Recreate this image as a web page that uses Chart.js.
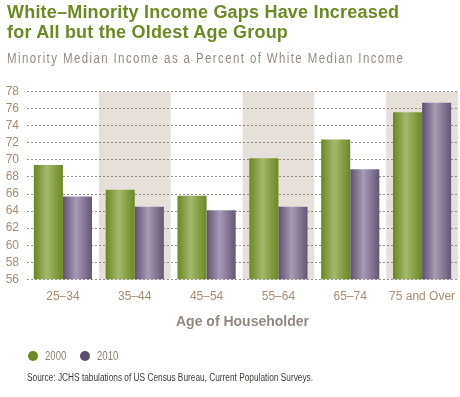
<!DOCTYPE html>
<html>
<head>
<meta charset="utf-8">
<script src="https://cdn.jsdelivr.net/npm/chart.js@4"></script>
<style>
  body { margin: 0; background: #fff; width: 460px; height: 397px; position: relative; overflow: hidden; }
  #chart { position: absolute; left: 0; top: 0; }
  .title { position: absolute; left: 7px; top: 2px; font: bold 18px "Liberation Sans", Arial, sans-serif; line-height: 20px; letter-spacing: 0.2px; color: #6b8a22; white-space: nowrap; }
  .narrow { display: inline-block; transform-origin: 0 50%; white-space: nowrap; }
  .subtitle { position: absolute; left: 7px; top: 50px; font: 14px "Liberation Sans", Arial, sans-serif; line-height: 16px; letter-spacing: 1.7px; color: #958b82; transform: scaleX(0.82); }
  .legend { position: absolute; left: 28px; top: 349px; font: 12px "Liberation Sans", Arial, sans-serif; color: #8d7f72; line-height: 12px; }
  .legend span { display: inline-block; vertical-align: middle; }
  .legend i { display: inline-block; width: 10px; height: 10px; border-radius: 50%; margin-right: 7px; vertical-align: middle; }
  .legend b { font-weight: normal; display: inline-block; width: 21px; margin-right: 14px; vertical-align: middle; }
  .legend b em { font-style: normal; transform: scaleX(0.8); }
  .source { position: absolute; left: 27px; top: 372px; font: 10px "Liberation Sans", Arial, sans-serif; color: #3f3a36; transform: scaleX(0.83); }
</style>
</head>
<body>
<canvas id="chart" width="460" height="397"></canvas>
<div class="title">White–Minority Income Gaps Have Increased<br>for All but the Oldest Age Group</div>
<div class="subtitle narrow">Minority Median Income as a Percent of White Median Income</div>
<div class="legend" id="legend"></div>
<div class="source narrow">Source: JCHS tabulations of US Census Bureau, Current Population Surveys.</div>
<script>
// data
const ageGroups = ["25–34", "35–44", "45–54", "55–64", "65–74", "75 and Over"];
const income2000 = [69.4, 66.5, 65.8, 70.2, 72.4, 75.6];
const income2010 = [65.7, 64.5, 64.1, 64.5, 68.9, 76.7];
const yTicks = [56, 58, 60, 62, 64, 66, 68, 70, 72, 74, 76, 78];
const shadedGroups = [1, 3, 5];

const CAT_PCT = 0.81;
const greenStops = ["#6a8722", "#a4b86c", "#6b8823"];
const purpleStops = ["#5f5074", "#a69cb4", "#645677"];

function barGradient(c, stops) {
  const chart = c.chart, area = chart.chartArea;
  if (!area || c.dataIndex === undefined) return stops[0];
  const cw = (area.right - area.left) / ageGroups.length * CAT_PCT;
  const bw = cw / 2;
  const mid = chart.scales.x.getPixelForValue(c.dataIndex) - cw / 2 + bw * (c.datasetIndex + 0.5);
  const g = chart.ctx.createLinearGradient(mid - bw / 2, 0, mid + bw / 2, 0);
  g.addColorStop(0, stops[0]);
  g.addColorStop(0.45, stops[1]);
  g.addColorStop(1, stops[2]);
  return g;
}

// background bands behind every other age group
const bands = {
  id: "bands",
  beforeDraw(chart) {
    const { ctx, chartArea: a, scales: { x, y } } = chart;
    const w = (a.right - a.left) / ageGroups.length;
    const top = y.getPixelForValue(yTicks[yTicks.length - 1]);
    ctx.save();
    ctx.fillStyle = "#e6e0db";
    shadedGroups.forEach(i => {
      const cx = x.getPixelForValue(i);
      ctx.fillRect(cx - w / 2, top, w, a.bottom - top);
    });
    ctx.restore();
  }
};

const tickFont = { family: "'Liberation Sans', Arial, sans-serif", size: 12 };

const chart = new Chart(document.getElementById("chart"), {
  type: "bar",
  data: {
    labels: ageGroups,
    datasets: [
      { label: "2000", data: income2000, backgroundColor: c => barGradient(c, greenStops), legendColor: "#6b8a22" },
      { label: "2010", data: income2010, backgroundColor: c => barGradient(c, purpleStops), legendColor: "#5a4d70" }
    ]
  },
  options: {
    responsive: false,
    animation: false,
    datasets: { bar: { categoryPercentage: CAT_PCT, barPercentage: 1 } },
    layout: { padding: { top: 91.7, left: 0, right: 2, bottom: 57.7 } },
    plugins: { legend: { display: false }, tooltip: { enabled: false } },
    scales: {
      x: {
        // invisible tick marks push the labels down without widening the label padding
        grid: { display: true, drawOnChartArea: false, drawTicks: true, tickLength: 8, color: "rgba(0,0,0,0)" },
        border: { display: false },
        ticks: { color: "#a48c73", font: tickFont, padding: 2, maxRotation: 0, autoSkip: false },
        title: {
          display: true,
          text: "Age of Householder",
          color: "#928880",
          font: { family: tickFont.family, size: 14, weight: "bold" },
          padding: { top: 0, bottom: 9 }
        },
        afterFit: s => { s.height = 60; }
      },
      y: {
        min: 56,
        max: 78,
        afterBuildTicks: s => { s.ticks = yTicks.map(v => ({ value: v })); },
        grid: { color: "#9a9088", lineWidth: 1, drawTicks: false, borderDash: [2, 2] },
        border: { display: false, dash: [2, 2] },
        ticks: { color: "#a48c73", font: tickFont, padding: 8, autoSkip: false },
        afterFit: s => { s.width = 27; }
      }
    }
  },
  plugins: [bands]
});

document.getElementById("legend").innerHTML = chart.data.datasets
  .map(d => `<span><i style="background:${d.legendColor}"></i><b><em class="narrow">${d.label}</em></b></span>`)
  .join("");
</script>
</body>
</html>
